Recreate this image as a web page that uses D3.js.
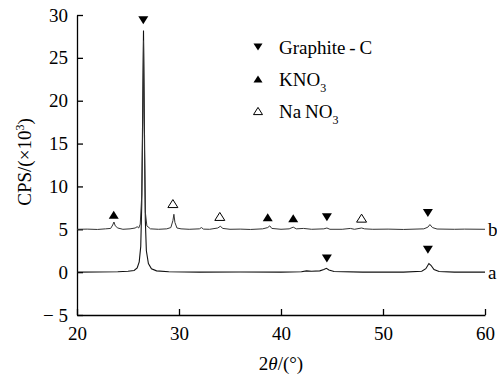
<!DOCTYPE html>
<html>
<head>
<meta charset="utf-8">
<script src="https://cdn.jsdelivr.net/npm/d3@7"></script>
<style>
  body { margin: 0; background: #fff; }
  svg text { font-family: "Liberation Serif", "Times New Roman", serif; fill: #000; }
</style>
</head>
<body>
<svg id="chart" width="497" height="380" font-family="Liberation Serif"></svg>
<script>
// axis ticks
var xTicks = [20, 30, 40, 50, 60];
var yTicks = [-5, 0, 5, 10, 15, 20, 25, 30];

// curve a (graphite): [2theta, CPS x1e3]
var curveA = [
	[20, 0], [22, 0.02], [24, 0.05], [25, 0.1], [25.6, 0.2], [25.9, 0.5], [26.1, 1.2], [26.25, 3],
	[26.35, 8], [26.45, 20], [26.52, 28.2], [26.6, 18], [26.7, 6], [26.8, 2.5], [27.0, 1.0],
	[27.3, 0.4], [27.8, 0.15], [29, 0.05], [32, 0], [36, 0.02], [40, 0], [42, 0.05], [42.5, 0.15],
	[43, 0.1], [43.8, 0.15], [44.2, 0.3], [44.45, 0.45], [44.7, 0.25], [45.2, 0.08], [48, 0],
	[52, 0], [53.8, 0.1], [54.2, 0.4], [54.5, 1.0], [54.7, 0.8], [55.0, 0.3], [55.5, 0.08],
	[57, 0], [60, 0]
];

// curve b (graphite + nitrates), shifted by +5
var curveB = [
	[20, 5], [21, 5.02], [22, 4.98], [22.8, 5.05], [23.3, 5.1], [23.5, 5.5], [23.62, 5.85],
	[23.75, 5.4], [24.0, 5.15], [24.5, 5.0], [25.2, 5.05], [25.7, 5.15], [25.9, 5.3], [26.05, 5.15],
	[26.2, 5.6], [26.35, 9], [26.45, 18], [26.52, 27], [26.6, 16], [26.7, 7], [26.85, 5.4],
	[27.2, 5.05], [28, 5.0], [28.8, 5.05], [29.2, 5.2], [29.4, 6.0], [29.5, 6.75], [29.6, 5.8],
	[29.8, 5.15], [30.2, 5.05], [31, 5.0], [32.0, 5.05], [32.2, 5.2], [32.4, 5.02], [33, 5.0],
	[33.8, 5.15], [34.05, 5.35], [34.3, 5.1], [35, 5.0], [36, 5.02], [37, 4.98], [38.2, 5.05],
	[38.7, 5.2], [38.9, 5.4], [39.1, 5.1], [40, 5.0], [40.8, 5.05], [41.2, 5.25], [41.5, 5.05],
	[42.2, 5.1], [43, 5.0], [44.2, 5.05], [44.5, 5.15], [44.8, 5.0], [46, 5.0], [46.8, 5.1],
	[47.2, 5.0], [47.9, 5.15], [48.2, 5.05], [49, 5.0], [50.5, 5.02], [52, 4.98], [54, 5.05],
	[54.4, 5.25], [54.6, 5.55], [54.85, 5.2], [55.3, 5.03], [57, 5.0], [58, 5.02], [60, 5]
];

// phase markers [2theta, height]
var graphiteMarks = [[26.5, 29.4], [44.5, 6.4], [54.4, 6.9], [44.5, 1.6], [54.4, 2.6]];
var kno3Marks = [[23.6, 6.7], [38.7, 6.4], [41.2, 6.3]];
var nano3Marks = [[29.4, 8.0], [34.0, 6.5], [47.9, 6.3]];

var curveLabels = [['b', 5], ['a', 0]];

var FONT = '"Liberation Serif", "Times New Roman", serif';

var svg = d3.select('#chart'),
	margin = {left: 77, right: 12, top: 15, bottom: 65},
	width = 497 - margin.left - margin.right,
	height = 380 - margin.top - margin.bottom;

var x = d3.scaleLinear().domain([20, 60]).range([0, width]);
var y = d3.scaleLinear().domain([-5, 30]).range([height, 0]);

var g = svg.append('g').attr('transform', 'translate(' + margin.left + ',' + margin.top + ')');

var fmt = function (d) { return d < 0 ? '\u2212 ' + Math.abs(d) : String(d); };

var xAxis = g.append('g').attr('transform', 'translate(0,' + height + ')')
	.call(d3.axisBottom(x).tickValues(xTicks).tickSizeInner(-6).tickSizeOuter(0).tickPadding(12));
var yAxis = g.append('g')
	.call(d3.axisLeft(y).tickValues(yTicks).tickFormat(fmt).tickSizeInner(-6).tickSizeOuter(0).tickPadding(9));

[xAxis, yAxis].forEach(function (ax) {
	ax.attr('font-family', FONT).attr('font-size', 19);
	ax.select('.domain').attr('stroke', '#000').attr('stroke-width', 1.3);
	ax.selectAll('.tick line').attr('stroke', '#000').attr('stroke-width', 1.3);
	ax.selectAll('text').attr('fill', '#000');
});

var line = d3.line().x(function (d) { return x(d[0]); }).y(function (d) { return y(d[1]); });

g.append('path').datum(curveA).attr('d', line)
	.attr('fill', 'none').attr('stroke', '#111').attr('stroke-width', 1.1);
g.append('path').datum(curveB).attr('d', line)
	.attr('fill', 'none').attr('stroke', '#333').attr('stroke-width', 1);

curveLabels.forEach(function (c) {
	g.append('text').attr('x', width + 3).attr('y', y(c[1])).attr('dy', '0.35em')
		.style('font-size', '19px').text(c[0]);
});

// triangle drawers
var down = function (cx, cy, s) { return 'M' + (cx - s) + ',' + (cy - s * 0.8) + 'L' + (cx + s) + ',' + (cy - s * 0.8) + 'L' + cx + ',' + (cy + s * 0.8) + 'Z'; };
var up = function (cx, cy, s) { return 'M' + (cx - s) + ',' + (cy + s * 0.8) + 'L' + (cx + s) + ',' + (cy + s * 0.8) + 'L' + cx + ',' + (cy - s * 0.8) + 'Z'; };

g.selectAll('.gm').data(graphiteMarks).enter().append('path')
	.attr('d', function (d) { return down(x(d[0]), y(d[1]), 5); }).attr('fill', '#000');
g.selectAll('.km').data(kno3Marks).enter().append('path')
	.attr('d', function (d) { return up(x(d[0]), y(d[1]), 5); }).attr('fill', '#000');
g.selectAll('.nm').data(nano3Marks).enter().append('path')
	.attr('d', function (d) { return up(x(d[0]), y(d[1]), 5); })
	.attr('fill', '#fff').attr('stroke', '#000').attr('stroke-width', 1);

// legend
var legend = svg.append('g').attr('transform', 'translate(258,47)');
var legendRows = [
	{shape: 'down', fill: '#000', name: 'Graphite\u2009-\u2009C', sub: ''},
	{shape: 'up', fill: '#000', name: 'KNO', sub: '3'},
	{shape: 'up', fill: '#fff', name: 'Na\u2009NO', sub: '3'}
];
legendRows.forEach(function (r, i) {
	var cy = i * 32;
	legend.append('path')
		.attr('d', r.shape === 'down' ? down(0, cy, 4.5) : up(0, cy, 4.5))
		.attr('fill', r.fill).attr('stroke', '#000').attr('stroke-width', r.fill === '#fff' ? 1 : 0);
	var t = legend.append('text').attr('x', 21).attr('y', cy).attr('dy', '0.35em').style('font-size', '19px');
	t.append('tspan').text(r.name);
	if (r.sub) t.append('tspan').attr('dy', '6').style('font-size', '12px').text(r.sub);
});

// axis titles
var xl = svg.append('text').attr('x', margin.left + width / 2).attr('y', 370)
	.attr('text-anchor', 'middle').style('font-size', '19px');
xl.append('tspan').text('2');
xl.append('tspan').style('font-style', 'italic').text('\u03b8');
xl.append('tspan').text('/(\u00b0)');

var yl = svg.append('text').attr('transform', 'translate(31,162) rotate(-90)')
	.attr('text-anchor', 'middle').style('font-size', '19px');
yl.append('tspan').text('CPS/(\u00d710');
yl.append('tspan').attr('dy', '-7').style('font-size', '12px').text('3');
yl.append('tspan').attr('dy', '7').text(')');
</script>
</body>
</html>
